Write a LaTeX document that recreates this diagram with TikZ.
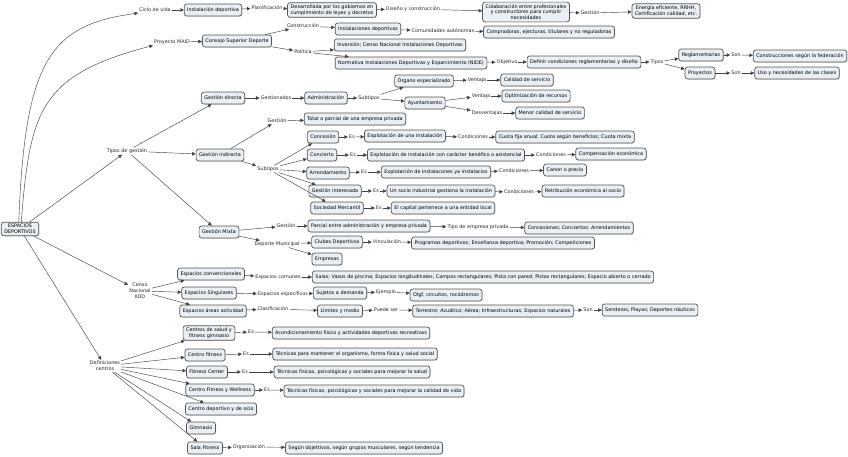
\documentclass[tikz,border=0pt]{standalone}
\usepackage{fontspec}
\setmainfont{DejaVu Sans}
\usetikzlibrary{arrows.meta,shadows}
\definecolor{cfill}{RGB}{233,239,244}
\definecolor{cline}{RGB}{85,85,85}

\begin{document}
\begin{tikzpicture}[x=1pt, y=-1pt,
		concept/.style={draw=cline, fill=cfill, line width=0.7pt, rounded corners=2.5pt, align=center,
			inner xsep=3pt, inner ysep=2pt, minimum height=12pt, font=\fontsize{4.9}{5.9}\selectfont,
			drop shadow={shadow xshift=0.6pt, shadow yshift=-0.6pt, fill=black!30}},
		linkp/.style={inner sep=1pt, align=center, text=black!85, font=\fontsize{4.9}{5.9}\selectfont},
		arr/.style={draw=black!75, line width=0.45pt, -{Triangle[length=3.6pt, width=3.4pt]}}]
	\useasboundingbox (0, 0) rectangle (848, 456);

	\node[concept] (root) at (20, 229) {ESPACIOS\\DEPORTIVOS};

	\node[linkp] (cv) at (155, 10) {Ciclo de vida};
	\node[concept] (instdep) at (213, 10) {Instalación deportiva};
	\node[linkp] (plan) at (267, 8) {Planificación};
	\node[concept] (desarr) at (332, 10) {Desarrollada por los gobiernos en\\cumplimiento de leyes y decretos};
	\node[linkp] (disen) at (413, 9) {Diseño y construcción};
	\node[concept] (colab) at (526, 12) {Colaboración entre profesionales\\y constructores para cumplir\\necesidades};
	\node[linkp] (gest1) at (590, 13) {Gestión};
	\node[concept] (energ) at (666, 11) {Energía eficiente, RRHH,\\Certificación calidad, etc.};

	\node[linkp] (maid) at (172, 42) {Proyecto MAID};
	\node[concept] (consejo) at (237, 41) {Consejo Superior Deporte};
	\node[linkp] (constr) at (303, 26) {Construcción};
	\node[concept] (instal) at (368, 29) {Instalaciones deportivas};
	\node[linkp] (ccaa) at (443, 31) {Comunidades autónomas};
	\node[concept] (compr) at (549, 32) {Compradoras, ejecturas, titulares y no reguladoras};
	\node[linkp] (polit) at (303, 52) {Política};
	\node[concept] (inver) at (400, 45) {Inversión; Censo Nacional Instalaciones Deportivas};
	\node[concept] (nide) at (411, 63) {Normativa Instalaciones Deportivas y Esparcimiento (NIDE)};
	\node[linkp] (objet) at (507, 62) {Objetivo};
	\node[concept] (definir) at (584, 62) {Definir condiciones reglamentarias y diseño};
	\node[linkp] (tipos) at (657, 62) {Tipos};
	\node[concept] (regla) at (701, 55) {Reglamentarias};
	\node[linkp] (son1) at (736, 55) {Son};
	\node[concept] (fede) at (800, 56) {Construcciones según la federación};
	\node[concept] (proy) at (700, 73) {Proyectos};
	\node[linkp] (son2) at (736, 73) {Son};
	\node[concept] (clases) at (797, 73) {Uso y necesidades de las clases};

	\node[linkp] (tgest) at (127, 151) {Tipos de gestión};
	\node[concept] (gdir) at (223, 98) {Gestión directa};
	\node[linkp] (gestion) at (276, 98) {Gestionados};
	\node[concept] (admin) at (326, 98) {Administración};
	\node[linkp] (subt1) at (369, 98) {Subtipos};
	\node[concept] (organo) at (424, 81) {Órgano especializado};
	\node[linkp] (vent1) at (477, 80) {Ventaja};
	\node[concept] (calidad) at (527, 80) {Calidad de servicio};
	\node[concept] (ayto) at (425, 103) {Ayuntamiento};
	\node[linkp] (vent2) at (481, 96) {Ventaja};
	\node[concept] (optim) at (536, 96) {Optimización de recursos};
	\node[linkp] (desv) at (487, 113) {Desventajas};
	\node[concept] (menor) at (550, 113) {Menor calidad de servicio};

	\node[concept] (gind) at (220, 155) {Gestión indirecta};
	\node[linkp] (gest2) at (277, 121) {Gestión};
	\node[concept] (total) at (355, 119) {Total o parcial de una empresa privada};
	\node[linkp] (subt2) at (268, 169) {Subtipos};
	\node[concept] (conces) at (323, 137) {Concesión};
	\node[linkp] (es1) at (352, 137) {Es};
	\node[concept] (explot1) at (405, 136) {Explotación de una instalación};
	\node[linkp] (cond1) at (473, 137) {Condiciones};
	\node[concept] (cuota) at (565, 137) {Cuota fija anual; Cuota según beneficios; Cuota mixta};
	\node[concept] (concier) at (322, 155) {Concierto};
	\node[linkp] (es2) at (353, 155) {Es};
	\node[concept] (explot2) at (446, 155) {Explotación de instalación con carácter benéfico o asistencial};
	\node[linkp] (cond2) at (551, 155) {Condiciones};
	\node[concept] (compens) at (611, 154) {Compensación económica};
	\node[concept] (arrend) at (328, 173) {Arrendamiento};
	\node[linkp] (es3) at (364, 172) {Es};
	\node[concept] (explot3) at (436, 172) {Explotación de instalacones ya instalacios};
	\node[linkp] (cond3) at (514, 171) {Condiciones};
	\node[concept] (canon) at (565, 170) {Canon o precio};
	\node[concept] (ginter) at (335, 191) {Gestión interesada};
	\node[linkp] (es4) at (376, 191) {Es};
	\node[concept] (socio) at (441, 191) {Un socio industrial gestiona la instalación};
	\node[linkp] (cond4) at (519, 192) {Condiciones};
	\node[concept] (retrib) at (583, 191) {Retribución económica al socio};
	\node[concept] (socmer) at (337, 208) {Sociedad Mercantil};
	\node[linkp] (es5) at (379, 208) {Es};
	\node[concept] (capital) at (443, 208) {El capital pertenece a una entidad local};

	\node[concept] (gmix) at (219, 232) {Gestión Mixta};
	\node[linkp] (gest3) at (286, 226) {Gestión};
	\node[concept] (parcial) at (369, 226) {Parcial entre administración y empresa privada};
	\node[linkp] (tipemp) at (478, 227) {Tipo de empresa privada};
	\node[concept] (concs) at (579, 228) {Concesiones; Conciertos; Arrendamientos};
	\node[linkp] (depmun) at (277, 244) {Deporte Municipal};
	\node[concept] (clubes) at (337, 242) {Clubes Deportivos};
	\node[linkp] (vinc) at (387, 242) {Vinculación};
	\node[concept] (progr) at (503, 243) {Programas deportivos; Enseñanza deportiva; Promoción; Competiciones};
	\node[concept] (empresas) at (327, 259) {Empresas};

	\node[linkp] (censo) at (140, 291) {Censo\\Nacional\\IIDD};
	\node[concept] (econv) at (211, 274) {Espacios convencionales};
	\node[linkp] (ecom) at (278, 277) {Espacios comunes};
	\node[concept] (salas) at (483, 277) {Salas; Vasos de piscina; Espacios longitudinales; Campos rectangulares; Pista con pared; Pistas rectangulares; Espacio abierto o cerrado};
	\node[concept] (esing) at (209, 293) {Espacios Singulares};
	\node[linkp] (eespec) at (283, 294) {Espacios específicos};
	\node[concept] (sujetos) at (340, 293) {Sujetos a demanda};
	\node[linkp] (ejem) at (386, 292) {Ejemplo};
	\node[concept] (olgf) at (446, 295) {Olgf, circuitos, rocódromos};
	\node[concept] (eareas) at (213, 311) {Espacios áreas actividad};
	\node[linkp] (clasif) at (273, 309) {Clasificación};
	\node[concept] (limites) at (340, 311) {Límites y medio};
	\node[linkp] (puede) at (386, 310) {Puede ser};
	\node[concept] (terr) at (493, 311) {Terrestre; Acuático; Aérea; Infraestructuras; Espacios naturales};
	\node[linkp] (son3) at (588, 310) {Son};
	\node[concept] (sender) at (650, 310) {Senderos; Playas; Deportes náuticos};

	\node[linkp] (defc) at (105, 366) {Definiciones\\centros};
	\node[concept] (csalud) at (209, 333) {Centros de salud y\\fitness gimnasio};
	\node[linkp] (es6) at (251, 332) {Es};
	\node[concept] (acond) at (351, 333) {Acondicionamiento físico y actividades deportivas recreativas};
	\node[concept] (cfit) at (205, 355) {Centro fitness};
	\node[linkp] (es7) at (246, 354) {Es};
	\node[concept] (tecman) at (355, 354) {Técnicas para mantener el organismo, forma física y salud social};
	\node[concept] (fcenter) at (207, 372) {Fitness Center};
	\node[linkp] (es8) at (245, 372) {Es};
	\node[concept] (tecsal) at (352, 372) {Técnicas físicas, psicológicas y sociales para mejorar la salud};
	\node[concept] (cwell) at (220, 390) {Centro Fitness y Wellness};
	\node[linkp] (es9) at (267, 390) {Es};
	\node[concept] (tecvida) at (374, 391) {Técnicas físicas, psicológicas y sociales para mejorar la calidad de vida};
	\node[concept] (cocio) at (221, 409) {Centro deportivo y de ocio};
	\node[concept] (gimn) at (201, 428) {Gimnasio};
	\node[concept] (sala) at (205, 448) {Sala Fitness};
	\node[linkp] (organiz) at (249, 447) {Organización};
	\node[concept] (segun) at (364, 448) {Según objettivos, según grupos musculares, según tendencia};

	\draw[arr] (root.100) .. controls (25, 60) and (50, 25) .. (cv.south west);
	\draw[arr] (root.80) .. controls (30, 110) and (40, 75) .. (maid.south west);
	\draw[arr] (root) -- (tgest);
	\draw[arr] (root) -- (censo);
	\draw[arr] (root) -- (defc);

	\foreach \a/\b in {cv/instdep, instdep/plan, plan/desarr, desarr/disen, disen/colab, colab/gest1, gest1/energ,
			maid/consejo, consejo/constr, constr/instal, instal/ccaa, ccaa/compr, consejo/polit, polit/inver, polit/nide,
			nide/objet, objet/definir, definir/tipos, tipos/regla, tipos/proy, regla/son1, son1/fede, proy/son2, son2/clases,
			tgest/gdir, tgest/gind, tgest/gmix, gdir/gestion, gestion/admin, admin/subt1, subt1/organo, subt1/ayto,
			organo/vent1, vent1/calidad, ayto/vent2, vent2/optim, ayto/desv, desv/menor,
			gind/gest2, gest2/total, gind/subt2, subt2/conces, subt2/concier, subt2/arrend, subt2/ginter, subt2/socmer,
			conces/es1, es1/explot1, explot1/cond1, cond1/cuota, concier/es2, es2/explot2, explot2/cond2, cond2/compens,
			arrend/es3, es3/explot3, explot3/cond3, cond3/canon, ginter/es4, es4/socio, socio/cond4, cond4/retrib,
			socmer/es5, es5/capital,
			gmix/gest3, gest3/parcial, parcial/tipemp, tipemp/concs, gmix/depmun, depmun/clubes, depmun/empresas,
			clubes/vinc, vinc/progr,
			censo/econv, censo/esing, censo/eareas, econv/ecom, ecom/salas, esing/eespec, eespec/sujetos,
			sujetos/ejem, ejem/olgf, eareas/clasif, clasif/limites, limites/puede, puede/terr, terr/son3, son3/sender,
			defc/csalud, defc/cfit, defc/fcenter, defc/cwell, defc/cocio, defc/gimn, defc/sala,
			csalud/es6, es6/acond, cfit/es7, es7/tecman, fcenter/es8, es8/tecsal, cwell/es9, es9/tecvida,
			sala/organiz, organiz/segun}
		\draw[arr] (\a) -- (\b);
\end{tikzpicture}
\end{document}
